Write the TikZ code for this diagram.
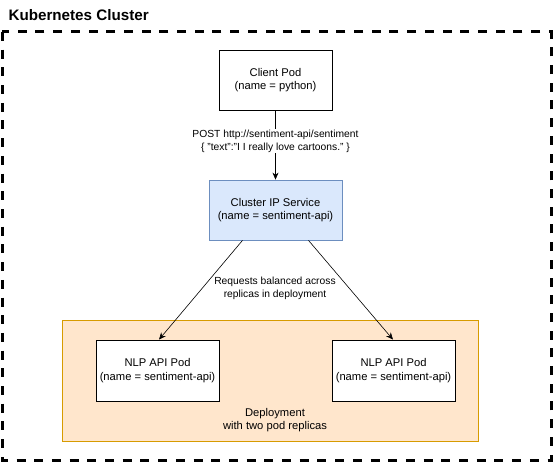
\documentclass[tikz,border=0pt]{standalone}
\usepackage{fontspec}
\setmainfont{Liberation Sans}
\usetikzlibrary{arrows.meta}
\definecolor{svcfill}{HTML}{DAE8FC}
\definecolor{svcdraw}{HTML}{6C8EBF}
\definecolor{depfill}{HTML}{FFE6CC}
\definecolor{depdraw}{HTML}{D79B00}
\newcommand\sdq{\char34\relax}
\begin{document}
\begin{tikzpicture}[x=1pt,y=-1pt,
  box/.style={draw=black,line width=0.8pt,align=center,font=\fontsize{11.2}{13.5}\selectfont,inner sep=0pt},
  elabel/.style={fill=white,align=center,font=\fontsize{10.3}{13}\selectfont,inner sep=1pt},
  conn/.style={-{Stealth[length=7pt,width=6pt]},line width=0.6pt}]
\useasboundingbox (0,0) rectangle (553,462);
\node[font=\bfseries\fontsize{15.2}{18}\selectfont,anchor=west] (title) at (5,15) {Kubernetes Cluster};
\draw[line width=3pt,dash pattern=on 9pt off 8.7pt] (2,32) rectangle (551,460);
\node[draw=depdraw,fill=depfill,line width=0.8pt,minimum width=416pt,minimum height=121pt,inner sep=0pt] (dep) at (270,380.5) {};
\node[align=center,font=\fontsize{11.2}{13.5}\selectfont] (deplabel) at (275,420) {Deployment\\with two pod replicas};
\node[box,minimum width=113pt,minimum height=60pt] (client) at (275.5,80) {Client Pod\\(name = python)};
\node[box,draw=svcdraw,fill=svcfill,minimum width=133pt,minimum height=60pt] (svc) at (275.5,210) {Cluster IP Service\\(name = sentiment-api)};
\node[box,fill=white,minimum width=123pt,minimum height=61pt] (pod1) at (157.5,370.5) {NLP API Pod\\(name = sentiment-api)};
\node[box,fill=white,minimum width=123pt,minimum height=61pt] (pod2) at (393.5,370.5) {NLP API Pod\\(name = sentiment-api)};
\draw[conn] (client.south) -- (svc.north) node[elabel,pos=0.44] (lab1) {POST http://sentiment-api/sentiment\\\{ \sdq text\sdq:\sdq I I really love cartoons.\sdq\ \}};
\draw[conn] ([xshift=-33pt]svc.south) -- ([xshift=1.5pt]pod1.north);
\draw[conn] ([xshift=33pt]svc.south) -- ([xshift=-0.5pt]pod2.north);
\node[elabel,fill=none] (lab2) at (275,288.5) {Requests balanced across\\replicas in deployment};
\end{tikzpicture}
\end{document}
